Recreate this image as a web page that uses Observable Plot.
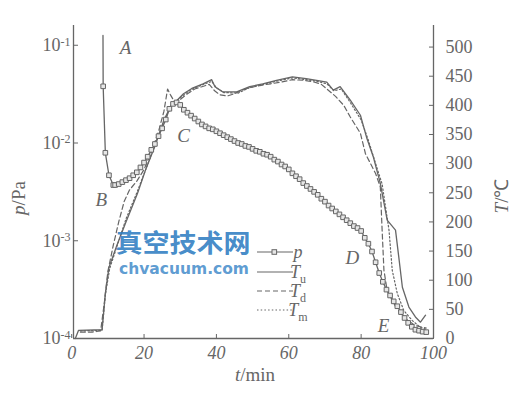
<!DOCTYPE html>
<html><head><meta charset="utf-8">
<script src="https://cdn.jsdelivr.net/npm/d3@7"></script>
<script src="https://cdn.jsdelivr.net/npm/@observablehq/plot@0.6"></script>
<style>body{margin:0;background:#fff}svg{display:block}</style>
</head><body><div id="chart"></div>
<script>
// pressure p (log10 of p/Pa) vs time t (min)
const pTime = [8.65,8.7,9.3,10.3,11.5,12,13,14,15,16,17,18,19,20,21,22,23,24,25,26,27,28,29,30,
  31,32,33,34,35,36,37,38,39,40,41,42,43,44,45,46,47,48,49,50,51,52,53,54,55,56,57,58,59,60,
  61,62,63,64,65,66,67,68,69,70,71,72,73,74,75,76,77,78,79,80,81,82,83,84,85,86,87,88,89,90,
  91,92,93,94,95,96,97,98];
const pLog = [-0.90,-1.42,-2.10,-2.33,-2.43,-2.43,-2.42,-2.40,-2.38,-2.36,-2.33,-2.30,-2.25,-2.20,-2.14,-2.07,-2.01,-1.93,-1.85,-1.76,-1.65,-1.60,-1.585,-1.61,
  -1.66,-1.69,-1.72,-1.75,-1.78,-1.81,-1.83,-1.85,-1.86,-1.88,-1.90,-1.92,-1.94,-1.96,-1.98,-2.00,-2.01,-2.03,-2.04,-2.06,-2.08,-2.09,-2.11,-2.12,-2.14,-2.17,-2.19,-2.22,-2.24,-2.27,
  -2.31,-2.34,-2.37,-2.41,-2.44,-2.47,-2.50,-2.53,-2.57,-2.60,-2.64,-2.67,-2.70,-2.73,-2.76,-2.79,-2.82,-2.85,-2.87,-2.90,-2.97,-3.03,-3.11,-3.22,-3.33,-3.42,-3.50,-3.56,-3.62,-3.67,
  -3.73,-3.79,-3.84,-3.88,-3.91,-3.92,-3.93,-3.935];

// T_u (solid)
const tuTime = [1.0,1.9,8.4,9.3,10.3,12.5,15,18.2,20.4,23,25.5,27.5,29,30.9,33.2,36.3,38.7,39.6,41.8,45.6,49.2,52.8,56.6,61,64.8,67.7,70.5,72.3,74.2,77,79.8,81.6,83.4,85.3,87.2,89.5,90.4,91.4,93.2,95,96.4,97.8];
const tuTemp = [0,14,15,77,122,160,200,249,289,330,375,400,408,420,429,437,444,432,423,423,432,437,443,449,446,443,440,426,432,409,383,343,311,266,203,186,140,88,54,37,28,40];
// T_d (dashed)
const tdTime = [2.4,5.7,8.0,9.0,10.0,11.5,13,14.5,16,18,20,22,24,25.5,26.5,27.3,28.5,30,32,34,36,38,39.5,41,43,45,47,49,52,55,58,61,64,67,69,71.5,73,75.2,77,79.8,81.2,84,85.3,85.8,86.3,87.2,89.5,92,95,98];
const tdTemp = [11,11,13,60,115,160,200,235,255,270,290,320,355,390,428,418,405,410,420,428,432,436,425,418,416,420,426,430,434,437,440,444,443,440,436,423,415,400,380,352,317,283,260,186,117,82,55,35,22,18];
// T_m (dotted)
const tmTime = [2.4,8.4,9.3,10.5,12.5,15,18,20.4,23,25.5,27.5,29,31,33,36,38.7,40,42,46,49,53,57,61,65,68,70.5,72.5,74.5,77,80,82,84,85.8,87.7,88.6,90,91.8,94.1,96.4,98];
const tmTemp = [13,14,75,120,158,205,250,289,332,372,398,408,418,427,435,441,430,422,421,430,436,442,447,444,441,437,425,428,405,375,340,300,265,186,117,77,48,31,19,16];

// ticks
const xTicks = [0,20,40,60,80,100];
const tTicks = [0,50,100,150,200,250,300,350,400,450,500];
const pExp = [-4,-3,-2,-1];

// curve labels
const labelText = ["A","B","C","D","E"];
const labelTime = [14.9,8.2,30.9,77.6,86.2];
const labelTemp = [499,237,347,139,21];

// shared vertical frame: one pressure decade equals this many temperature units
const K = 167.7;
const toY = lg => (lg + 4) * K;

const pData = pTime.map((t,i)=>({t, y: toY(pLog[i])}));
const tu = tuTime.map((t,i)=>({t, y: tuTemp[i]}));
const td = tdTime.map((t,i)=>({t, y: tdTemp[i]}));
const tm = tmTime.map((t,i)=>({t, y: tmTemp[i]}));
const labels = labelText.map((s,i)=>({s, t: labelTime[i], y: labelTemp[i]}));

const ink = "#666";
const serif = "'Liberation Serif','Times New Roman',serif";

const plot = Plot.plot({
  width: 526, height: 396,
  marginLeft: 73, marginRight: 93, marginTop: 25, marginBottom: 58,
  x: {domain: [0.5, 100]},
  y: {domain: [0, 537]},
  style: {fontFamily: serif, color: ink, background: "white", fontSize: "18px"},
  marks: [
    Plot.ruleX([0.5], {stroke: ink, strokeWidth: 1.3}),
    Plot.ruleX([100], {stroke: ink, strokeWidth: 1.3}),
    Plot.ruleY([0], {stroke: ink, strokeWidth: 1.3}),
    Plot.axisX({ticks: xTicks, tickSize: -4, tickPadding: 12, fontSize: 18, fontStyle: "italic", label: null, stroke: ink}),
    Plot.axisY({anchor: "left", ticks: pExp.map(toY), tickFormat: (d,i) => "10|" + pExp[i], tickSize: -5, tickPadding: 8, fontSize: 18, label: null}),
    Plot.axisY({anchor: "right", ticks: tTicks, tickSize: -5, tickPadding: 17, fontSize: 18, label: null}),
    Plot.line(tu, {x: "t", y: "y", stroke: ink, strokeWidth: 1.3}),
    Plot.line(td, {x: "t", y: "y", stroke: ink, strokeWidth: 1.2, strokeDasharray: "5,3"}),
    Plot.line(tm, {x: "t", y: "y", stroke: ink, strokeWidth: 1.2, strokeDasharray: "1.5,2.2"}),
    Plot.line(pData, {x: "t", y: "y", stroke: ink, strokeWidth: 1.3}),
    Plot.dot(pData.slice(1), {x: "t", y: "y", symbol: "square", r: 2.6, stroke: ink, fill: "#e6e6e6", strokeWidth: 1}),
    Plot.text(labels, {x: "t", y: "y", text: "s", fontSize: 19, fontStyle: "italic", fill: ink})
  ]
});
document.getElementById("chart").append(plot);

const svg = d3.select(plot);
// superscript exponents on left axis
svg.selectAll("text").each(function(){
  const s = this.textContent;
  if (s.indexOf("|") > 0) {
    const [b, e] = s.split("|");
    const el = d3.select(this);
    el.text("");
    el.append("tspan").text(b);
    el.append("tspan").attr("dy", "-0.45em").attr("font-size", 12).text(e.replace("-", "-"));
  }
});

// axis titles
const tx = svg.append("text").attr("x", 255).attr("y", 381).attr("text-anchor", "middle")
  .attr("font-size", 19).attr("fill", ink).attr("font-family", serif);
tx.append("tspan").attr("font-style", "italic").text("t");
tx.append("tspan").text("/min");

const ty = svg.append("text").attr("transform", "translate(25,198) rotate(-90)").attr("text-anchor", "middle")
  .attr("font-size", 19).attr("fill", ink).attr("font-family", serif);
ty.append("tspan").attr("font-style", "italic").text("p");
ty.append("tspan").text("/Pa");

const ty2 = svg.append("text").attr("transform", "translate(508,196) rotate(-90)").attr("text-anchor", "middle")
  .attr("font-size", 19).attr("fill", ink).attr("font-family", serif);
ty2.append("tspan").attr("font-style", "italic").text("T");
ty2.append("tspan").text("/\u2103");

// legend
const legendRows = [
  {k: "p", sub: "", dash: null, marker: true},
  {k: "T", sub: "u", dash: null},
  {k: "T", sub: "d", dash: "5,3"},
  {k: "T", sub: "m", dash: "1.5,2.2"}
];
const ly = [252, 272, 291, 310];
legendRows.forEach((r, i) => {
  const y = ly[i];
  const ln = svg.append("line").attr("x1", 257).attr("x2", 293).attr("y1", y).attr("y2", y)
    .attr("stroke", ink).attr("stroke-width", 1.2);
  if (r.dash) ln.attr("stroke-dasharray", r.dash);
  if (r.marker) svg.append("rect").attr("x", 272).attr("y", y - 2.3).attr("width", 4.6).attr("height", 4.6)
    .attr("fill", "#e6e6e6").attr("stroke", ink);
  const t = svg.append("text").attr("x", 298).attr("y", y + 6).attr("font-size", 18).attr("fill", ink).attr("font-family", serif);
  t.append("tspan").attr("font-style", "italic").text(r.k);
  if (r.sub) t.append("tspan").attr("dy", 5).attr("font-size", 12).text(r.sub);
});

// watermark
svg.append("text").attr("x", 183).attr("y", 252).attr("textLength", 135).attr("lengthAdjust", "spacingAndGlyphs")
  .attr("font-family", "'Noto Sans CJK SC'").attr("font-weight", 700).attr("font-size", 25)
  .attr("fill", "#2f7dc2").attr("fill-opacity", 0.9).text("真空技术网");
svg.append("text").attr("x", 184).attr("y", 274).attr("textLength", 130).attr("lengthAdjust", "spacingAndGlyphs")
  .attr("font-family", "'DejaVu Sans'").attr("font-weight", "bold").attr("font-size", 15)
  .attr("fill", "#4a8fcc").attr("fill-opacity", 0.9).text("chvacuum.com");
</script>
</body></html>
